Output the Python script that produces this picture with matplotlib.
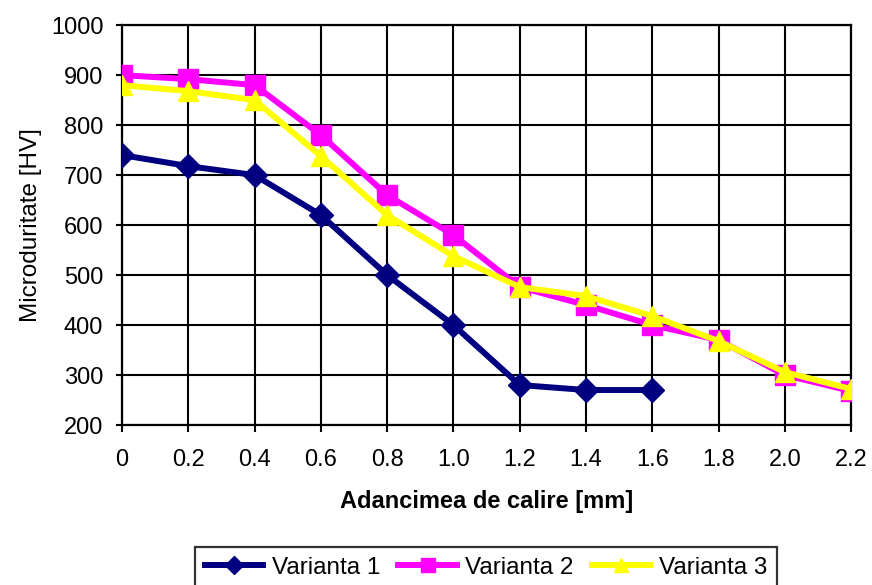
import matplotlib
matplotlib.use("Agg")
import matplotlib.pyplot as plt

plt.rcParams['font.family'] = ['Liberation Sans', 'DejaVu Sans']

depth_1 = [0, 0.2, 0.4, 0.6, 0.8, 1.0, 1.2, 1.4, 1.6]
hv_1 = [740, 718, 700, 620, 500, 400, 280, 270, 270]

depth_23 = [0, 0.2, 0.4, 0.6, 0.8, 1.0, 1.2, 1.4, 1.6, 1.8, 2.0, 2.2]
hv_2 = [900, 892, 880, 780, 660, 580, 476, 440, 400, 370, 300, 268]
hv_3 = [880, 868, 850, 738, 620, 538, 476, 458, 418, 368, 306, 272]

x_ticks = [0, 0.2, 0.4, 0.6, 0.8, 1.0, 1.2, 1.4, 1.6, 1.8, 2.0, 2.2]
x_tick_labels = ["0", "0.2", "0.4", "0.6", "0.8", "1.0", "1.2", "1.4", "1.6", "1.8", "2.0", "2.2"]
y_ticks = list(range(200, 1001, 100))

fig = plt.figure(figsize=(8.72, 5.85), dpi=100)
ax = fig.add_axes([0.140, 0.2735, 0.836, 0.6835])

lw = 4.3
ax.plot(depth_1, hv_1, color='#000080', lw=lw, marker='D', ms=12.5, label='Varianta 1', zorder=3)
ax.plot(depth_23, hv_2, color='#ff00ff', lw=lw, marker='s', ms=14.5, label='Varianta 2', zorder=4)
ax.plot(depth_23, hv_3, color='#ffff00', lw=lw, marker='^', ms=15, label='Varianta 3', zorder=5)

ax.set_xlim(0, 2.2)
ax.set_ylim(200, 1000)
ax.set_xticks(x_ticks)
ax.set_xticklabels(x_tick_labels)
ax.set_yticks(y_ticks)
ax.grid(True, color='black', lw=1.5)
ax.set_axisbelow(True)
for s in ax.spines.values():
    s.set_color('black')
    s.set_linewidth(1.6)
ax.tick_params(axis='both', labelsize=17, color='black', width=1.5, direction='out')
ax.tick_params(axis='x', length=5, pad=12)
ax.tick_params(axis='y', length=4.5, pad=9)

ax.set_xlabel('Adancimea de calire [mm]', fontsize=17, fontweight='bold', labelpad=14)
ax.set_ylabel('Microduritate [HV]', fontsize=17.5, labelpad=6)

leg = fig.legend(loc='upper center', bbox_to_anchor=(486 / 872, 1 - 547 / 585), ncol=3,
                 fontsize=17.5, frameon=True, fancybox=False, edgecolor='black',
                 handlelength=2.4, columnspacing=0.75, handletextpad=0.35,
                 borderpad=0.4, borderaxespad=0, markerscale=0.7)
leg.get_frame().set_linewidth(1.6)

fig.savefig('out.png', dpi=100)
